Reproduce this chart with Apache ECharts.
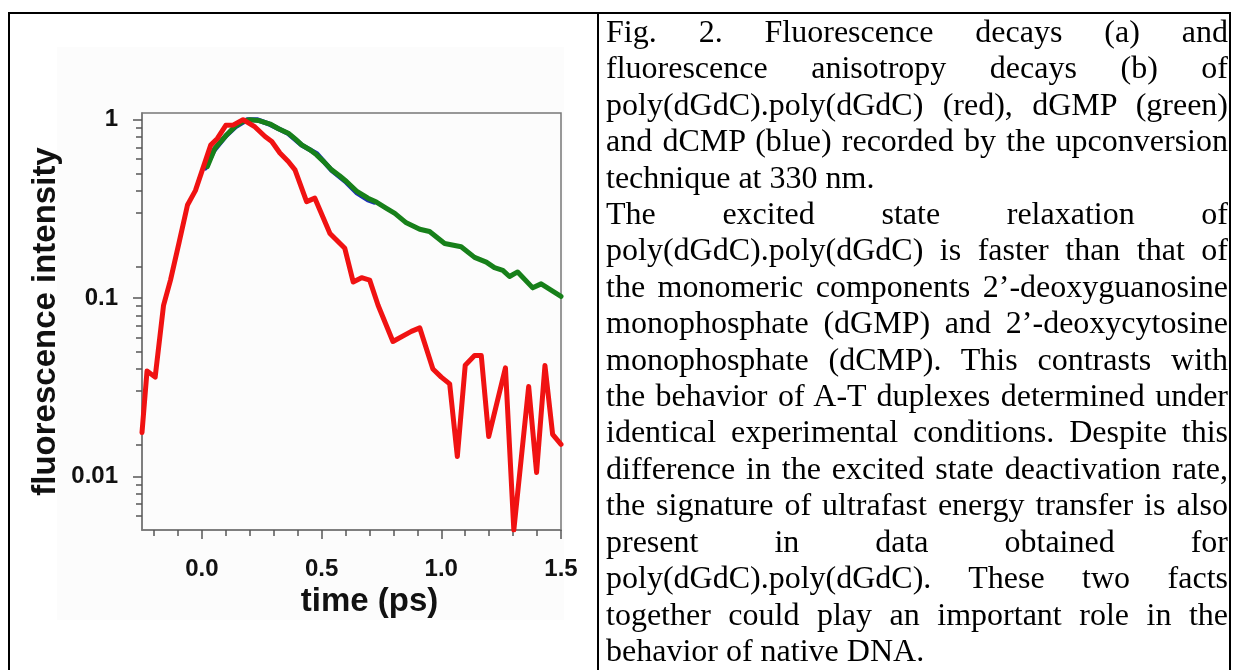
<!DOCTYPE html>
<html>
<head>
<meta charset="utf-8">
<script src="https://cdn.jsdelivr.net/npm/echarts@6/dist/echarts.min.js"></script>
<style>
  html, body { margin: 0; padding: 0; background: #fff; }
  body { width: 1236px; height: 670px; position: relative; overflow: hidden; }
  #chart { position: absolute; left: 0; top: 0; width: 1236px; height: 670px; }
  #frame { position: absolute; left: 8px; top: 12px; width: 1219px; height: 700px; border: 2px solid #000; box-sizing: content-box; pointer-events: none; }
  #divider { position: absolute; left: 597px; top: 12px; width: 2px; height: 700px; background: #000; }
  #caption { position: absolute; left: 606px; top: 13px; width: 622px; font-family: 'Liberation Serif', 'Times New Roman', serif; font-size: 32px; line-height: 36.4px; color: #000; }
  #caption .ln { white-space: nowrap; text-align: justify; text-align-last: justify; }
  #caption .ln.last { text-align: left; text-align-last: left; }
</style>
</head>
<body>
<div id="chart"></div>
<div id="frame"></div>
<div id="divider"></div>
<div id="caption"></div>
<script>
// ---------- data ----------
const xMin = -0.25, xMax = 1.5;
const yMin = 0.005, yMax = 1.09;
const xMajorTicks = [0, 0.5, 1.0, 1.5];
const xMinorTicks = [-0.2, -0.1, 0, 0.1, 0.2, 0.3, 0.4, 0.5, 0.6, 0.7, 0.8, 0.9, 1.0, 1.1, 1.2, 1.3, 1.4, 1.5];
const yMajorTicks = [0.01, 0.1, 1];
const yMinorTicks = [0.006, 0.007, 0.008, 0.009, 0.015, 0.03, 0.04, 0.05, 0.06, 0.07, 0.08, 0.09, 0.15, 0.3, 0.4, 0.5, 0.6, 0.7, 0.8, 0.9];

const xTitle = 'time (ps)';
const yTitle = 'fluorescence intensity';

// poly(dGdC).poly(dGdC) (red)
const polyGC = [
  [-0.25, 0.0176], [-0.229, 0.039], [-0.195, 0.036], [-0.16, 0.091], [-0.131, 0.126],
  [-0.095, 0.205], [-0.06, 0.332], [-0.027, 0.40], [0.037, 0.72], [0.065, 0.785],
  [0.10, 0.93], [0.132, 0.935], [0.172, 1.0], [0.222, 0.91], [0.264, 0.805],
  [0.292, 0.755], [0.326, 0.65], [0.361, 0.583], [0.389, 0.523], [0.4375, 0.347],
  [0.472, 0.363], [0.535, 0.23], [0.597, 0.19], [0.632, 0.123], [0.667, 0.13],
  [0.701, 0.126], [0.736, 0.091], [0.798, 0.057], [0.875, 0.065], [0.91, 0.068],
  [0.965, 0.040], [1.0, 0.036], [1.035, 0.033], [1.067, 0.0129], [1.10, 0.042],
  [1.139, 0.0476], [1.167, 0.0476], [1.198, 0.0167], [1.268, 0.0406], [1.303, 0.005],
  [1.365, 0.0319], [1.398, 0.0105], [1.433, 0.0418], [1.465, 0.0172], [1.5, 0.0151]
];
// dGMP (green)
const dGMP = [
  [0.023, 0.546], [0.055, 0.693], [0.104, 0.823], [0.14, 0.92], [0.173, 0.98],
  [0.20, 1.0], [0.235, 0.99], [0.285, 0.945], [0.32, 0.89], [0.361, 0.84],
  [0.39, 0.78], [0.417, 0.723], [0.45, 0.68], [0.479, 0.635], [0.51, 0.58],
  [0.542, 0.523], [0.575, 0.485], [0.604, 0.45], [0.646, 0.398], [0.694, 0.363],
  [0.729, 0.345], [0.771, 0.318], [0.806, 0.298], [0.854, 0.264], [0.91, 0.243],
  [0.951, 0.236], [1.014, 0.202], [1.083, 0.194], [1.139, 0.169], [1.188, 0.159],
  [1.222, 0.148], [1.257, 0.143], [1.285, 0.132], [1.319, 0.14], [1.382, 0.114],
  [1.417, 0.12], [1.5, 0.102]
];
// dCMP (blue)
const dCMP = [
  [0.014, 0.535], [0.05, 0.67], [0.10, 0.81], [0.14, 0.91], [0.19, 1.0],
  [0.23, 1.0], [0.285, 0.94], [0.361, 0.835], [0.417, 0.72], [0.48, 0.645],
  [0.542, 0.52], [0.604, 0.445], [0.646, 0.39], [0.694, 0.355], [0.72, 0.345]
];

const captionLines = [
  'Fig. 2. Fluorescence decays (a) and',
  'fluorescence anisotropy decays (b) of',
  'poly(dGdC).poly(dGdC) (red), dGMP (green)',
  'and dCMP (blue) recorded by the upconversion',
  'technique at 330 nm.',
  'The excited state relaxation of',
  'poly(dGdC).poly(dGdC) is faster than that of',
  'the monomeric components 2\u2019-deoxyguanosine',
  'monophosphate (dGMP) and 2\u2019-deoxycytosine',
  'monophosphate (dCMP). This contrasts with',
  'the behavior of A-T duplexes determined under',
  'identical experimental conditions. Despite this',
  'difference in the excited state deactivation rate,',
  'the signature of ultrafast energy transfer is also',
  'present in data obtained for',
  'poly(dGdC).poly(dGdC). These two facts',
  'together could play an important role in the',
  'behavior of native DNA.'
];
const paragraphEnds = [4, 17];

// ---------- caption ----------
const cap = document.getElementById('caption');
captionLines.forEach((t, i) => {
  const d = document.createElement('div');
  d.className = 'ln' + (paragraphEnds.includes(i) ? ' last' : '');
  d.textContent = t;
  cap.appendChild(d);
});

// ---------- chart ----------
const axisColor = '#777';
const labelFont = { fontFamily: 'Liberation Sans, Arial, sans-serif', fontWeight: 'bold', color: '#111' };
const chart = echarts.init(document.getElementById('chart'), null, { renderer: 'canvas' });
chart.setOption({
  animation: false,
  backgroundColor: '#fff',
  graphic: [{
    type: 'rect', z: -5, silent: true,
    shape: { x: 57, y: 47, width: 507, height: 573 },
    style: { fill: '#fcfcfc' }
  }],
  grid: {
    left: 142, top: 113, width: 419, height: 417,
    show: true, borderColor: axisColor, borderWidth: 1.5, backgroundColor: 'transparent',
    containLabel: false
  },
  xAxis: [{
    type: 'value', min: xMin, max: xMax, position: 'bottom',
    axisLine: { show: true, onZero: false, lineStyle: { color: axisColor, width: 1.5 } },
    axisTick: { show: true, customValues: xMajorTicks, length: 9, lineStyle: { color: '#555', width: 1.5 } },
    axisLabel: Object.assign({ show: true, customValues: xMajorTicks, fontSize: 24, margin: 27,
      formatter: v => Number(v).toFixed(1) }, labelFont),
    splitLine: { show: false },
    name: xTitle, nameLocation: 'middle', nameGap: 54,
    nameTextStyle: Object.assign({ fontSize: 33, padding: [0, 0, 0, 36] }, labelFont)
  }, {
    type: 'value', min: xMin, max: xMax, position: 'bottom',
    axisLine: { show: false, onZero: false },
    axisTick: { show: true, customValues: xMinorTicks, length: 6, lineStyle: { color: '#555', width: 1.5 } },
    axisLabel: { show: false },
    splitLine: { show: false }
  }],
  yAxis: [{
    type: 'log', logBase: 10, min: yMin, max: yMax, position: 'left',
    axisLine: { show: true, onZero: false, lineStyle: { color: axisColor, width: 1.5 } },
    axisTick: { show: true, customValues: yMajorTicks, length: 9, lineStyle: { color: '#555', width: 1.5 } },
    axisLabel: Object.assign({ show: true, customValues: yMajorTicks, fontSize: 24, margin: 24,
      formatter: v => { const e = Math.round(Math.log10(v)); return e === 0 ? '1' : (e === -1 ? '0.1' : '0.01'); } }, labelFont),
    splitLine: { show: false },
    name: yTitle, nameLocation: 'middle', nameGap: 80, nameRotate: 90,
    nameTextStyle: Object.assign({ fontSize: 33 }, labelFont)
  }, {
    type: 'log', logBase: 10, min: yMin, max: yMax, position: 'left',
    axisLine: { show: false, onZero: false },
    axisTick: { show: true, customValues: yMinorTicks, length: 6, lineStyle: { color: '#555', width: 1.5 } },
    axisLabel: { show: false },
    splitLine: { show: false }
  }],
  series: [{
    name: 'dCMP', type: 'line', xAxisIndex: 0, yAxisIndex: 0, data: dCMP,
    showSymbol: false, symbol: 'none', z: 2,
    lineStyle: { color: '#1b2fb5', width: 5, join: 'round', cap: 'round' }
  }, {
    name: 'dGMP', type: 'line', xAxisIndex: 0, yAxisIndex: 0, data: dGMP,
    showSymbol: false, symbol: 'none', z: 3,
    lineStyle: { color: '#17801a', width: 5, join: 'round', cap: 'round' }
  }, {
    name: 'poly(dGdC).poly(dGdC)', type: 'line', xAxisIndex: 0, yAxisIndex: 0, data: polyGC,
    showSymbol: false, symbol: 'none', z: 4,
    lineStyle: { color: '#f01212', width: 5, join: 'round', cap: 'round' }
  }]
});
</script>
</body>
</html>
